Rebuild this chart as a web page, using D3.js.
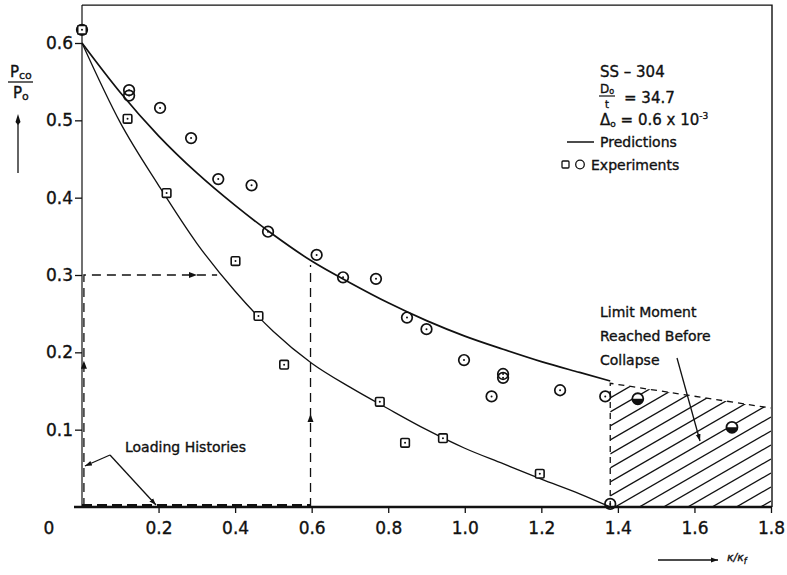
<!DOCTYPE html>
<html>
<head>
<meta charset="utf-8">
<script src="https://cdn.jsdelivr.net/npm/d3@7"></script>
<style>
  body { margin: 0; background: #fff; }
  svg text { font-family: "DejaVu Sans", sans-serif; fill: #111; stroke: #111; stroke-width: 0.35px; }
</style>
</head>
<body>
<svg id="chart" width="787" height="575"></svg>
<script>
// ---- data ----
const xTicks = [0.2, 0.4, 0.6, 0.8, 1.0, 1.2, 1.4, 1.6, 1.8];
const yTicks = [0.1, 0.2, 0.3, 0.4, 0.5, 0.6];

// predicted collapse load vs curvature ratio
const predX     = [0, 0.1, 0.2, 0.3, 0.4, 0.5, 0.6, 0.7, 0.8, 0.9, 1.0, 1.1, 1.2, 1.3, 1.38];
const predUpper = [0.600, 0.536, 0.480, 0.432, 0.390, 0.352, 0.318, 0.290, 0.264, 0.241, 0.221, 0.204, 0.188, 0.174, 0.163];
const predLower = [0.600, 0.497, 0.416, 0.341, 0.279, 0.227, 0.186, 0.155, 0.127, 0.100, 0.076, 0.056, 0.036, 0.017, 0.000];

// experiments (circles / squares)
const circleX = [0, 0.123, 0.123, 0.204, 0.285, 0.356, 0.443, 0.486, 0.613, 0.682, 0.768, 0.849, 0.900, 0.998, 1.070, 1.100, 1.100, 1.249, 1.367, 1.380];
const circleY = [0.617, 0.539, 0.532, 0.516, 0.477, 0.424, 0.416, 0.356, 0.326, 0.297, 0.295, 0.245, 0.230, 0.190, 0.143, 0.172, 0.167, 0.151, 0.143, 0.004];
const squareX = [0, 0.119, 0.221, 0.401, 0.461, 0.528, 0.778, 0.844, 0.943, 1.196];
const squareY = [0.617, 0.502, 0.406, 0.318, 0.247, 0.184, 0.136, 0.083, 0.089, 0.043];
// experiments where the limit moment was reached before collapse
const limitPtX = [1.452, 1.698];
const limitPtY = [0.140, 0.103];

// limit-moment region boundary
const limitX   = [1.38, 1.8];
const limitTop = [0.160, 0.128];

// loading histories
const histA = [[0.005, 0], [0.005, 0.3], [0.353, 0.3]];
const histB = [[0.597, 0], [0.597, 0.313]];
const histBase = [[0, 0.002], [0.597, 0.002]];
const histArrows = [
  { at: [0.005, 0.184], dir: "up" },
  { at: [0.290, 0.300], dir: "right" },
  { at: [0.597, 0.115], dir: "up" }
];

// ---- scales ----
const svg = d3.select("#chart");
const x = d3.scaleLinear().domain([0, 1.8]).range([82, 771]);
const y = d3.scaleLinear().domain([0, 0.6]).range([507, 43]);
const yMax = 0.649;
const ink = "#111";

const defs = svg.append("defs");
defs.append("marker").attr("id", "ah").attr("viewBox", "0 0 10 10")
  .attr("refX", 10).attr("refY", 5).attr("markerWidth", 7).attr("markerHeight", 7)
  .attr("markerUnits", "userSpaceOnUse").attr("orient", "auto")
  .append("path").attr("d", "M0,1.5L10,5L0,8.5Z").attr("fill", ink);

// ---- limit-moment hatched region ----
const regionPts = [[limitX[0], 0], [limitX[0], limitTop[0]], [limitX[1], limitTop[1]], [limitX[1], 0]];
const lineXY = d3.line().x(d => x(d[0])).y(d => y(d[1]));
defs.append("clipPath").attr("id", "hatchClip")
  .append("path").attr("d", lineXY(regionPts) + "Z");
const hx0 = x(limitX[0]), hx1 = x(limitX[1]);
const slope = Math.tan(30 * Math.PI / 180);
const rise = (hx1 - hx0) * slope;
const hatch = svg.append("g").attr("clip-path", "url(#hatchClip)");
for (let c = y(0) + rise + 14; c > y(limitTop[0]) - 14; c -= 14) {
  hatch.append("line")
    .attr("x1", hx0).attr("y1", c - 6)
    .attr("x2", hx1).attr("y2", c - 6 - rise)
    .attr("stroke", ink).attr("stroke-width", 1.3);
}
svg.append("path")
  .attr("d", lineXY([[limitX[0], 0], [limitX[0], limitTop[0]], [limitX[1], limitTop[1]]]))
  .attr("fill", "none").attr("stroke", ink).attr("stroke-width", 1.3)
  .attr("stroke-dasharray", "6,5");

// ---- frame and axes ----
svg.append("path")
  .attr("d", `M${x(0)},${y(yMax)}H${x(1.8) + 1}V${y(0)}`)
  .attr("fill", "none").attr("stroke", ink).attr("stroke-width", 1.4);

const fmt = d3.format(".1f");
const xAxis = svg.append("g").attr("transform", `translate(0,${y(0)})`)
  .call(d3.axisBottom(x).tickValues(xTicks).tickFormat(fmt).tickSize(6).tickPadding(9));
const yAxis = svg.append("g").attr("transform", `translate(${x(0)},0)`)
  .call(d3.axisLeft(y).tickValues(yTicks).tickFormat(fmt).tickSize(7).tickPadding(2));
[xAxis, yAxis].forEach(g => {
  g.selectAll("text").attr("font-size", 17).attr("fill", ink)
    .style("font-family", "'DejaVu Sans', sans-serif");
  g.selectAll(".tick line").attr("stroke", ink).attr("stroke-width", 1.3);
});
xAxis.select(".domain").attr("d", `M${x(0) - 8},0H${x(1.8) + 1}`).attr("stroke", ink).attr("stroke-width", 2.4);
yAxis.select(".domain").attr("d", `M0,${y(yMax)}V${y(0)}`).attr("stroke", ink).attr("stroke-width", 1.2);

svg.append("text").attr("x", 49).attr("y", 534).attr("text-anchor", "middle")
  .attr("font-size", 17).text("0");

// ---- prediction curves ----
const curve = d3.line().x(d => x(d[0])).y(d => y(d[1])).curve(d3.curveMonotoneX);
svg.append("path").attr("d", curve(predX.map((v, i) => [v, predUpper[i]])))
  .attr("fill", "none").attr("stroke", ink).attr("stroke-width", 1.7);
svg.append("path").attr("d", curve(predX.map((v, i) => [v, predLower[i]])))
  .attr("fill", "none").attr("stroke", ink).attr("stroke-width", 1.3);

// ---- loading histories ----
svg.append("path").attr("d", lineXY(histA)).attr("fill", "none")
  .attr("stroke", ink).attr("stroke-width", 1.3).attr("stroke-dasharray", "9,6");
svg.append("path").attr("d", lineXY(histB)).attr("fill", "none")
  .attr("stroke", ink).attr("stroke-width", 1.3).attr("stroke-dasharray", "9,6");
svg.append("path").attr("d", lineXY(histBase)).attr("fill", "none")
  .attr("stroke", ink).attr("stroke-width", 3).attr("stroke-dasharray", "10,5");

function triangle(px, py, dir, len = 8, half = 3) {
  if (dir === "up") return `M${px},${py - len / 2}L${px + half},${py + len / 2}L${px - half},${py + len / 2}Z`;
  return `M${px + len / 2},${py}L${px - len / 2},${py - half}L${px - len / 2},${py + half}Z`;
}
histArrows.forEach(a => {
  svg.append("path").attr("d", triangle(x(a.at[0]), y(a.at[1]), a.dir)).attr("fill", ink);
});

// ---- experimental points ----
const pts = svg.append("g");
circleX.forEach((cx, i) => {
  const px = x(cx), py = y(circleY[i]);
  pts.append("circle").attr("cx", px).attr("cy", py).attr("r", 5.3)
    .attr("fill", "#fff").attr("fill-opacity", 0.001).attr("stroke", ink).attr("stroke-width", 1.7);
  pts.append("circle").attr("cx", px).attr("cy", py).attr("r", 1).attr("fill", ink);
});
squareX.forEach((sx, i) => {
  const px = x(sx), py = y(squareY[i]);
  pts.append("rect").attr("x", px - 4.3).attr("y", py - 4.3).attr("width", 8.6).attr("height", 8.6)
    .attr("rx", 1.2).attr("fill", "#fff").attr("stroke", ink).attr("stroke-width", 1.6);
  pts.append("circle").attr("cx", px).attr("cy", py).attr("r", 1).attr("fill", ink);
});
limitPtX.forEach((lx, i) => {
  const px = x(lx), py = y(limitPtY[i]);
  pts.append("circle").attr("cx", px).attr("cy", py).attr("r", 5.5)
    .attr("fill", "#fff").attr("stroke", ink).attr("stroke-width", 1.8);
  pts.append("path").attr("d", `M${px - 5.5},${py}A5.5,5.5 0 0 0 ${px + 5.5},${py}Z`).attr("fill", ink);
});

// ---- y-axis title ----
const yt = svg.append("g");
yt.append("text").attr("x", 10).attr("y", 77).attr("font-size", 15)
  .html('P<tspan font-size="11" dy="2">co</tspan>');
yt.append("line").attr("x1", 8).attr("x2", 33).attr("y1", 82).attr("y2", 82)
  .attr("stroke", ink).attr("stroke-width", 1.3);
yt.append("text").attr("x", 13).attr("y", 98).attr("font-size", 15)
  .html('P<tspan font-size="11" dy="2">o</tspan>');
yt.append("line").attr("x1", 18).attr("x2", 18).attr("y1", 173).attr("y2", 122)
  .attr("stroke", ink).attr("stroke-width", 1.3);
yt.append("path").attr("d", "M18,114L20.5,122L18,125L15.5,122Z").attr("fill", ink);

// ---- x-axis title ----
svg.append("line").attr("x1", 658).attr("x2", 718).attr("y1", 560).attr("y2", 560)
  .attr("stroke", ink).attr("stroke-width", 1.3).attr("marker-end", "url(#ah)");
svg.append("text").attr("x", 727).attr("y", 561).attr("font-size", 11).attr("font-style", "italic")
  .html('κ/κ<tspan font-size="8" dy="3">f</tspan>');

// ---- legend / specimen data ----
const lg = svg.append("g");
lg.append("text").attr("x", 600).attr("y", 77).attr("font-size", 15).text("SS – 304");
lg.append("text").attr("x", 600).attr("y", 93).attr("font-size", 12)
  .html('D<tspan font-size="8" dy="1">o</tspan>');
lg.append("line").attr("x1", 599).attr("x2", 615).attr("y1", 96).attr("y2", 96)
  .attr("stroke", ink).attr("stroke-width", 1.2);
lg.append("text").attr("x", 605).attr("y", 108).attr("font-size", 10).text("t");
lg.append("text").attr("x", 624).attr("y", 103).attr("font-size", 15).text("= 34.7");
lg.append("text").attr("x", 600).attr("y", 125).attr("font-size", 15)
  .html('Δ<tspan font-size="9" dy="2">o</tspan><tspan dy="-2"> = 0.6 x 10</tspan><tspan font-size="9" dy="-6">-3</tspan>');
lg.append("line").attr("x1", 567).attr("x2", 594).attr("y1", 142).attr("y2", 142)
  .attr("stroke", ink).attr("stroke-width", 1.5);
lg.append("text").attr("x", 600).attr("y", 147).attr("font-size", 14).text("Predictions");
lg.append("rect").attr("x", 562).attr("y", 161).attr("width", 7).attr("height", 7).attr("rx", 1)
  .attr("fill", "#fff").attr("stroke", ink).attr("stroke-width", 1.3);
lg.append("circle").attr("cx", 580).attr("cy", 164.5).attr("r", 4.3)
  .attr("fill", "#fff").attr("stroke", ink).attr("stroke-width", 1.3);
lg.append("text").attr("x", 591).attr("y", 170).attr("font-size", 14).text("Experiments");

// ---- annotations ----
const an = svg.append("g");
["Limit Moment", "Reached Before", "Collapse"].forEach((t, i) => {
  an.append("text").attr("x", 600).attr("y", 317 + i * 24).attr("font-size", 14).text(t);
});
an.append("line").attr("x1", 677).attr("y1", 358).attr("x2", 700).attr("y2", 441)
  .attr("stroke", ink).attr("stroke-width", 1.3).attr("marker-end", "url(#ah)");

an.append("text").attr("x", 125).attr("y", 452).attr("font-size", 14).text("Loading Histories");
an.append("line").attr("x1", 110).attr("y1", 455).attr("x2", x(histA[0][0]) + 1).attr("y2", 466)
  .attr("stroke", ink).attr("stroke-width", 1.3).attr("marker-end", "url(#ah)");
an.append("line").attr("x1", 110).attr("y1", 455).attr("x2", 156).attr("y2", 505)
  .attr("stroke", ink).attr("stroke-width", 1.3).attr("marker-end", "url(#ah)");
</script>
</body>
</html>
